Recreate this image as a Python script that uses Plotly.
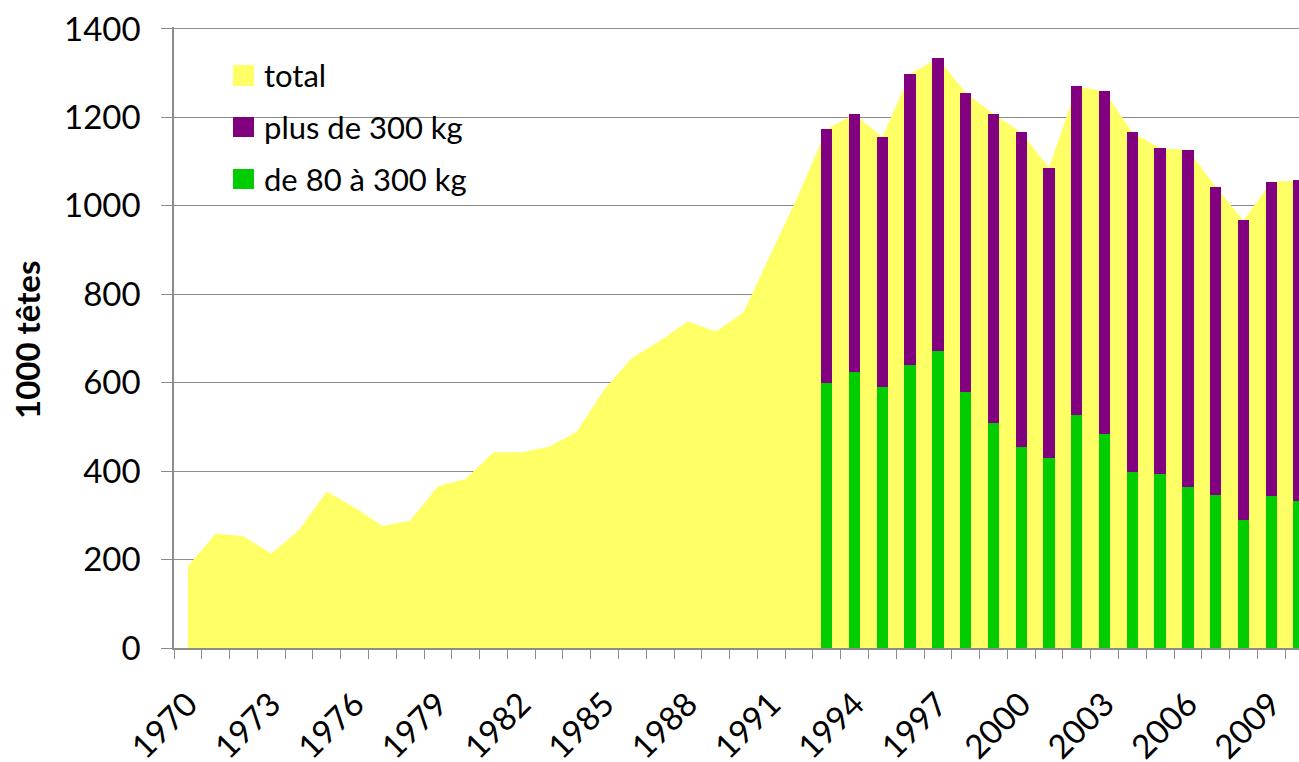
import plotly.graph_objects as go

# ---- data ----
years = list(range(1970, 2011))
total = [185, 259, 253, 213, 267, 354, 318, 276, 288, 366,
         382, 443, 443, 455, 489, 586, 657, 695, 739, 716,
         759, 892, 1028, 1174, 1208, 1155, 1299, 1334, 1256, 1208,
         1166, 1086, 1270, 1259, 1166, 1130, 1127, 1043, 967, 1054,
         1058]
bar_years = list(range(1993, 2011))
de_80_a_300 = [600, 624, 591, 641, 671, 580, 509, 455, 430, 526,
               484, 398, 394, 364, 347, 289, 344, 333]
plus_de_300 = [574, 584, 564, 658, 663, 676, 699, 711, 656, 744,
               775, 768, 736, 763, 696, 678, 710, 725]
tick_years = list(range(1970, 2010, 3))
y_ticks = [0, 200, 400, 600, 800, 1000, 1200, 1400]
series_names = ["total", "plus de 300 kg", "de 80 à 300 kg"]
colors = ["#FFFF66", "#800080", "#00CC00"]

FONT = "Lato"
GRAY = "#8c8c8c"

fig = go.Figure()
fig.add_trace(go.Scatter(x=years, y=total, name=series_names[0], mode="lines",
                         line=dict(width=0, color=colors[0]), fill="tozeroy",
                         fillcolor=colors[0], showlegend=False,
                         xaxis="x", yaxis="y"))
fig.add_trace(go.Bar(x=bar_years, y=de_80_a_300, name=series_names[2],
                     marker=dict(color=colors[2], line=dict(width=0)),
                     width=0.41, showlegend=False, xaxis="x2", yaxis="y2"))
fig.add_trace(go.Bar(x=bar_years, y=plus_de_300, name=series_names[1],
                     marker=dict(color=colors[1], line=dict(width=0)),
                     width=0.41, showlegend=False, xaxis="x2", yaxis="y2"))

xr = [1969.5, 2010.0]
yr = [0, 1404.5]
PH = 621  # plot height in px

fig.update_layout(
    width=1299, height=762,
    margin=dict(l=174, r=0, t=27, b=114),
    paper_bgcolor="white", plot_bgcolor="white",
    barmode="stack",
    font=dict(family=FONT, size=33, color="black"),
    xaxis=dict(range=xr, tickmode="array", tickvals=tick_years,
               ticktext=[str(y) for y in tick_years], tickangle=-45,
               ticks="", showgrid=False, zeroline=False, automargin=False,
               showline=True, linecolor=GRAY, linewidth=1.5,
               ticklabelstandoff=22,
               tickfont=dict(family=FONT, size=33),
               minor=dict(tick0=1969.5, dtick=1, ticks="outside", ticklen=9,
                          tickcolor=GRAY, tickwidth=1.3, showgrid=False)),
    yaxis=dict(range=yr, tickmode="array", tickvals=y_ticks,
               ticktext=[str(v) for v in y_ticks],
               showgrid=True, gridcolor=GRAY, gridwidth=1.3, zeroline=False,
               showline=True, linecolor=GRAY, linewidth=1.5, automargin=False,
               ticks="outside", ticklen=11, tickcolor=GRAY, tickwidth=1.3,
               ticklabelstandoff=14,
               tickfont=dict(family=FONT, size=33)),
    xaxis2=dict(range=xr, overlaying="x", visible=False),
    yaxis2=dict(range=yr, overlaying="y", visible=False),
)

# y-axis title
fig.add_annotation(xref="paper", yref="paper", x=(27 - 174) / 1125, y=(648 - 340) / PH,
                   xanchor="center", yanchor="middle", text="<b>1000 têtes</b>",
                   textangle=-90, showarrow=False, font=dict(family=FONT, size=33))

# legend drawn as swatches + labels
sw_y = [(65, 86), (117, 137), (169, 189)]
txt_y = [75, 127, 179]
def px_x(p):
    return (p - 174) / 1125
def px_y(p):
    return (648 - p) / PH
for name, col, (y0, y1), ty in zip(series_names, colors, sw_y, txt_y):
    fig.add_shape(type="rect", xref="paper", yref="paper",
                  x0=px_x(233), x1=px_x(254), y0=px_y(y1), y1=px_y(y0),
                  fillcolor=col, line=dict(width=0))
    fig.add_annotation(xref="paper", yref="paper", x=px_x(262), y=px_y(ty),
                       xanchor="left", yanchor="middle", text=name,
                       showarrow=False, font=dict(family=FONT, size=31))

fig.write_html("out.html", config={"displayModeBar": False},
               post_script="document.body.style.margin='0';document.body.style.overflow='hidden';")
